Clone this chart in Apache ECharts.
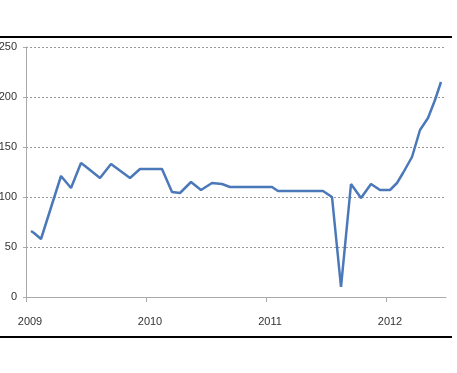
<!DOCTYPE html>
<html>
<head>
<meta charset="utf-8">
<script src="https://cdn.jsdelivr.net/npm/echarts@6/dist/echarts.min.js"></script>
<style>
html,body{margin:0;padding:0;background:#fff;}
#chart{width:457px;height:373px;}
</style>
</head>
<body>
<div id="chart"></div>
<script>
// months elapsed since start of Jan 2009
var months = [0.5, 0.8, 1.5, 3.5, 4.5, 5.5, 5.9, 7.4, 8.5, 10.4, 11.4, 13.6, 14.6, 15.4, 16.5, 17.5, 18.6, 19.6, 20.4, 24.6, 25.2, 29.7, 30.6, 31.5, 32.5, 33.5, 34.5, 35.4, 36.4, 37.1, 37.7, 38.6, 39.4, 40.2, 40.9, 41.5];
var values = [66, 64, 58, 121, 109, 134, 131, 119, 133, 119, 128, 128, 105, 104, 115, 107, 114, 113, 110, 110, 106, 106, 100, 10, 113, 99, 113, 107, 107, 114, 124, 140, 167, 179, 197, 215];
var yearTicks = [2009, 2010, 2011, 2012];
var startYear = 2009;

var data = months.map(function (m, i) { return [startYear + m / 12, values[i]]; });

var chart = echarts.init(document.getElementById('chart'));
var font = "'Liberation Sans', sans-serif";
chart.setOption({
  animation: false,
  grid: { left: 26, right: 11, top: 47, bottom: 76, outerBoundsMode: 'none', containLabel: false },
  xAxis: {
    type: 'value',
    min: 2009,
    max: 2009 + 42 / 12,
    interval: 1,
    axisLine: { lineStyle: { color: '#aaaaaa', width: 1 } },
    axisTick: { show: true, length: 5, lineStyle: { color: '#aaaaaa' }, customValues: yearTicks },
    axisLabel: {
      customValues: yearTicks,
      color: '#333333', fontFamily: font, fontSize: 11, margin: 19,
      padding: [0, 0, 0, 8],
      formatter: function (v) { return String(Math.round(v)); }
    },
    splitLine: { show: false }
  },
  yAxis: {
    type: 'value',
    min: 0, max: 250, interval: 50,
    axisLine: { show: true, lineStyle: { color: '#aaaaaa', width: 1 } },
    axisTick: { show: true, length: 3, lineStyle: { color: '#aaaaaa' } },
    axisLabel: { color: '#333333', fontFamily: font, fontSize: 11, margin: 9 },
    splitLine: { show: true, lineStyle: { color: '#999999', type: [2, 2], width: 1 } }
  },
  series: [{
    type: 'line',
    data: data,
    symbol: 'none',
    lineStyle: { color: '#4a78b8', width: 2.5 },
    z: 3
  }],
  graphic: [
    { type: 'rect', shape: { x: 0, y: 36, width: 452, height: 2 }, style: { fill: '#000' } },
    { type: 'rect', shape: { x: 0, y: 336, width: 452, height: 2 }, style: { fill: '#000' } }
  ]
});
</script>
</body>
</html>
